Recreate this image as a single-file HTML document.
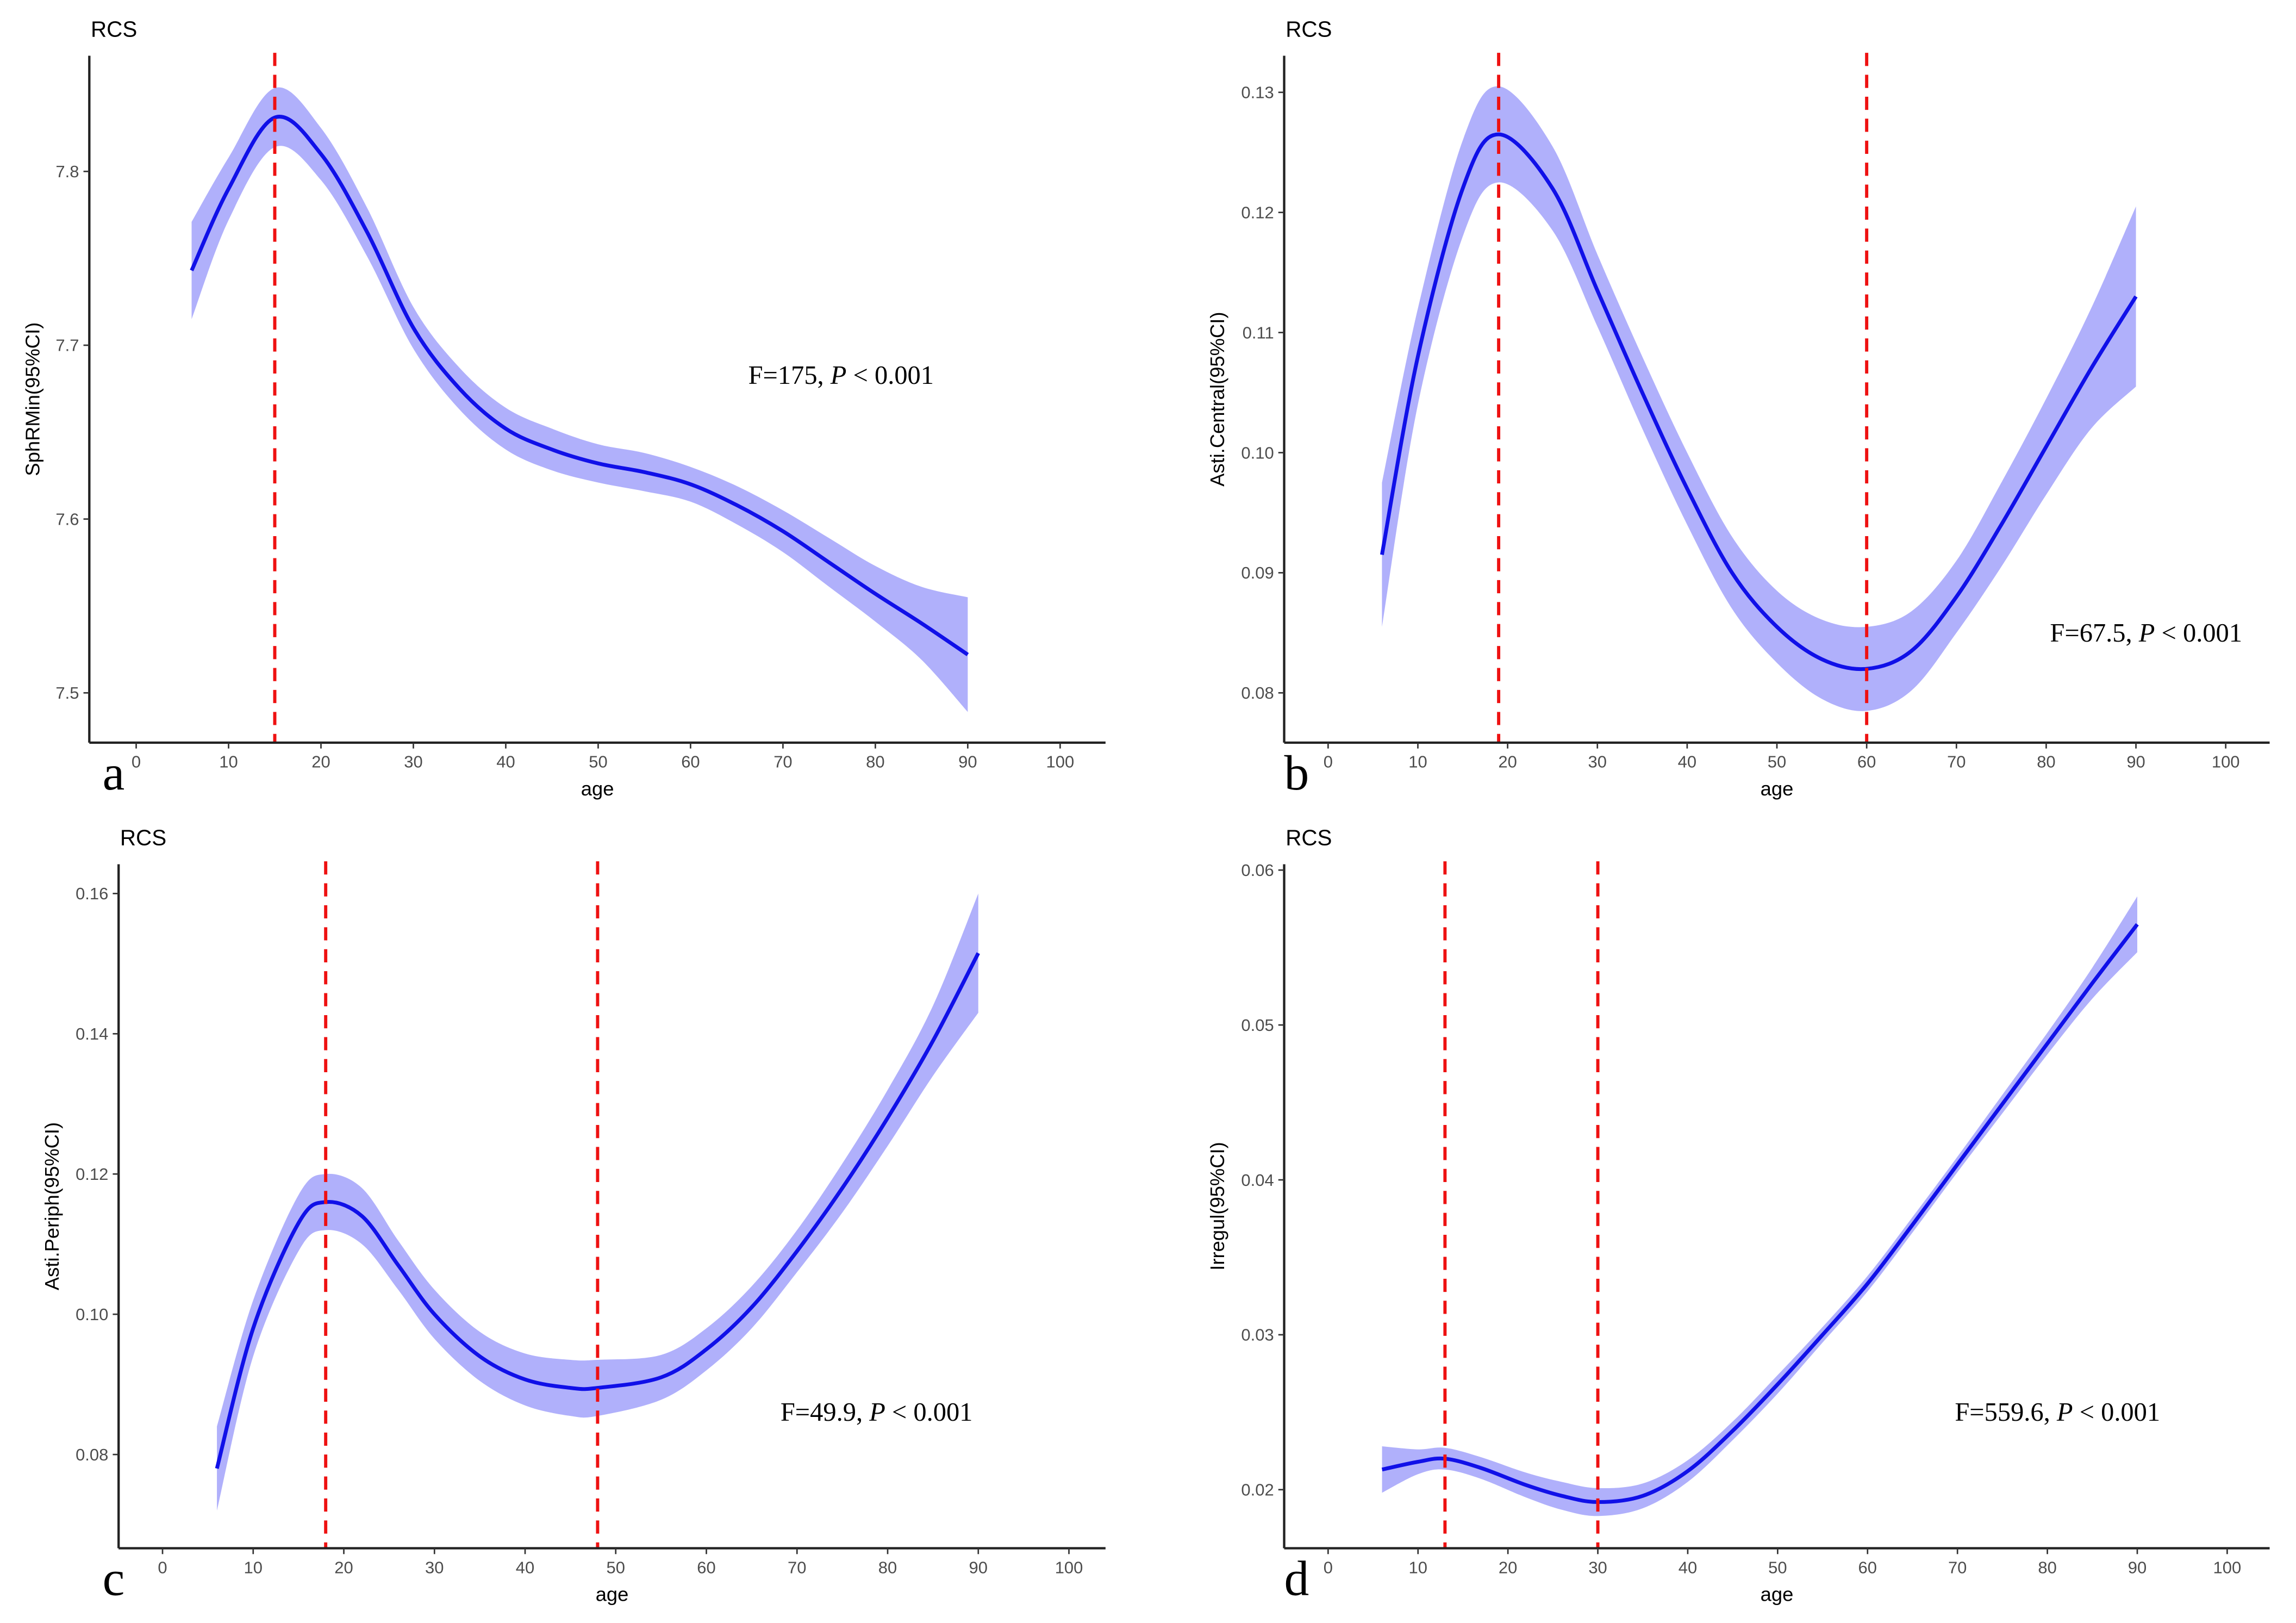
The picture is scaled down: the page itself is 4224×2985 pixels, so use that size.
<!DOCTYPE html>
<html><head><meta charset="utf-8"><style>
html,body{margin:0;padding:0;background:#fff;}
svg{display:block;}
.tick{font-family:"Liberation Sans",sans-serif;font-size:11.5px;fill:#4d4d4d;}
.ttl{font-family:"Liberation Sans",sans-serif;font-size:15px;fill:#000;}
.ax{font-family:"Liberation Sans",sans-serif;font-size:13.5px;fill:#000;}
.let{font-family:"Liberation Serif",serif;font-size:34px;fill:#000;}
.ann{font-family:"Liberation Serif",serif;font-size:18px;fill:#000;}
</style></head><body>
<svg id="fig" width="4224" height="2985" viewBox="0 0 1568 1108" xmlns="http://www.w3.org/2000/svg"></svg>
<script>
// ---- Panel a data ----
const agesA=[6,10,15,20,25,30,35,40,45,50,55,60,65,70,75,80,85,90];
const meanA=[7.743,7.79,7.831,7.81,7.765,7.71,7.675,7.652,7.64,7.632,7.627,7.62,7.608,7.593,7.575,7.557,7.54,7.522];
const lowA=[7.715,7.772,7.814,7.795,7.751,7.698,7.663,7.640,7.628,7.621,7.616,7.610,7.597,7.581,7.561,7.541,7.519,7.489];
const upA=[7.771,7.808,7.848,7.825,7.779,7.722,7.687,7.664,7.652,7.643,7.638,7.630,7.619,7.605,7.589,7.573,7.561,7.555];
const yTicksA=[7.5,7.6,7.7,7.8];
const cutsA=[15];
// ---- Panel b data ----
const agesB=[6,10,15,19,25,30,35,40,45,50,55,60,65,70,75,80,85,90];
const meanB=[0.0915,0.108,0.122,0.1265,0.122,0.1135,0.105,0.097,0.090,0.0855,0.0828,0.082,0.0835,0.088,0.094,0.1005,0.107,0.113];
const lowB=[0.0855,0.104,0.118,0.1225,0.1185,0.1105,0.102,0.094,0.087,0.0825,0.0795,0.0785,0.0802,0.085,0.0905,0.0965,0.102,0.1055];
const upB=[0.0975,0.112,0.126,0.1305,0.1255,0.1165,0.108,0.100,0.093,0.0885,0.0861,0.0855,0.0868,0.091,0.0975,0.1045,0.112,0.1205];
const yTicksB=[0.08,0.09,0.10,0.11,0.12,0.13];
const cutsB=[19,60];
// ---- Panel c data ----
const agesC=[6,10,15,18,22,26,30,35,40,45,48,55,60,65,70,75,80,85,90];
const meanC=[0.078,0.098,0.113,0.116,0.114,0.107,0.100,0.094,0.0907,0.0895,0.0895,0.091,0.095,0.101,0.109,0.118,0.128,0.139,0.1515];
const lowC=[0.072,0.094,0.109,0.112,0.110,0.1035,0.0965,0.0905,0.087,0.0855,0.0855,0.0878,0.092,0.098,0.106,0.1145,0.124,0.134,0.143];
const upC=[0.084,0.102,0.117,0.120,0.118,0.1105,0.1035,0.0975,0.0944,0.0935,0.0935,0.0942,0.098,0.104,0.112,0.1215,0.132,0.144,0.160];
const yTicksC=[0.08,0.10,0.12,0.14,0.16];
const cutsC=[18,48];
// ---- Panel d data ----
const agesD=[6,10,13,17,22,26,30,35,40,45,50,55,60,65,70,75,80,85,90];
const meanD=[0.0213,0.0218,0.0220,0.0214,0.0203,0.0196,0.0192,0.0196,0.0212,0.0238,0.0268,0.0300,0.0333,0.0371,0.0410,0.0449,0.0488,0.0527,0.0565];
const lowD=[0.0198,0.0210,0.0213,0.0207,0.0195,0.0187,0.0183,0.0188,0.0205,0.0232,0.0262,0.0295,0.0328,0.0366,0.0405,0.0443,0.0481,0.0517,0.0547];
const upD=[0.0228,0.0226,0.0227,0.0221,0.0211,0.0205,0.0201,0.0204,0.0219,0.0244,0.0274,0.0305,0.0338,0.0376,0.0415,0.0455,0.0495,0.0537,0.0583];
const yTicksD=[0.02,0.03,0.04,0.05,0.06];
const cutsD=[13,30];
const xTicks=[0,10,20,30,40,50,60,70,80,90,100];

const NS="http://www.w3.org/2000/svg";
const svg=document.getElementById('fig');
function mk(tag,attrs,parent){const e=document.createElementNS(NS,tag);for(const k in attrs)e.setAttribute(k,attrs[k]);(parent||svg).appendChild(e);return e;}
function smooth(pts){let d='M'+pts[0][0]+','+pts[0][1];for(let i=0;i<pts.length-1;i++){const p0=pts[i-1]||pts[i],p1=pts[i],p2=pts[i+1],p3=pts[i+2]||p2;
const c1x=p1[0]+(p2[0]-p0[0])/6,c1y=p1[1]+(p2[1]-p0[1])/6,c2x=p2[0]-(p3[0]-p1[0])/6,c2y=p2[1]-(p3[1]-p1[1])/6;
d+=' C'+c1x+','+c1y+' '+c2x+','+c2y+' '+p2[0]+','+p2[1];}return d;}
function smoothCont(pts){return smooth(pts).replace(/^M/,'L');}

function panel(cfg){
 const g=mk('g',{});
 
 
 const X=v=>cfg.x0+(v-0)*(cfg.x100-cfg.x0)/100;
 const Y=v=>cfg.yA+(v-cfg.vA)*(cfg.yB-cfg.yA)/(cfg.vB-cfg.vA);
 const up=cfg.ages.map((a,i)=>[X(a),Y(cfg.up[i])]);
 const lo=cfg.ages.map((a,i)=>[X(a),Y(cfg.low[i])]).reverse();
 const band=mk('path',{d:smooth(up)+' '+smoothCont(lo)+' Z',fill:'#b0b0fb',stroke:'none'},g);
 
 
 const line=mk('path',{d:smooth(cfg.ages.map((a,i)=>[X(a),Y(cfg.mean[i])])),fill:'none',stroke:'#1010e8','stroke-width':2.6},g);
 
 
 cfg.cuts.forEach(c=>{const l=mk('line',{x1:X(c),x2:X(c),y1:cfg.top-2,y2:cfg.bottom,stroke:'#ee1111','stroke-width':2.2,'stroke-dasharray':'9,6'},g);
  
  });
 const ya=mk('line',{x1:cfg.ax,x2:cfg.ax,y1:cfg.top,y2:cfg.bottom,stroke:'#222','stroke-width':1.6},g);
 
 
 const xa=mk('line',{x1:cfg.ax,x2:cfg.right,y1:cfg.bottom,y2:cfg.bottom,stroke:'#222','stroke-width':1.6},g);
 
 
 xTicks.forEach(t=>{mk('line',{x1:X(t),x2:X(t),y1:cfg.bottom,y2:cfg.bottom+4,stroke:'#333','stroke-width':1},g);
  const tx=mk('text',{x:X(t),y:cfg.bottom+17,'text-anchor':'middle',class:'tick'},g);tx.textContent=t;
  
  });
 cfg.yt.forEach(t=>{mk('line',{x1:cfg.ax-4,x2:cfg.ax,y1:Y(t),y2:Y(t),stroke:'#333','stroke-width':1},g);
  const tx=mk('text',{x:cfg.ax-7,y:Y(t)+4,'text-anchor':'end',class:'tick'},g);tx.textContent=cfg.fmt(t);
  
  });
 const tt=mk('text',{x:cfg.ax+1,y:cfg.top-13,class:'ttl'},g);tt.textContent='RCS';
 
 
 const xl=mk('text',{x:(cfg.ax+cfg.right)/2,y:cfg.bottom+36,'text-anchor':'middle',class:'ax'},g);xl.textContent='age';
 
 
 const yl=mk('text',{x:0,y:0,'text-anchor':'middle',class:'ax',transform:'translate('+cfg.ytx+','+((cfg.top+cfg.bottom)/2)+') rotate(-90)'},g);yl.textContent=cfg.ytitle;
 
 
 const lt=mk('text',{x:cfg.letX,y:cfg.bottom+32,class:'let'},g);lt.textContent=cfg.letter;
 
 
 const an=mk('text',{x:cfg.annX,y:cfg.annY,class:'ann'},g);
 
 
 const s1=mk('tspan',{},an);s1.textContent=cfg.F+', ';
 const s2=mk('tspan',{'font-style':'italic'},an);s2.textContent='P';
 const s3=mk('tspan',{},an);s3.textContent=' < 0.001';
}
panel({letter:'a',ages:agesA,mean:meanA,low:lowA,up:upA,yt:yTicksA,cuts:cutsA,fmt:v=>v.toFixed(1),
 x0:93,x100:724,yA:117,vA:7.8,yB:473,vB:7.5,ax:61,right:755,top:38,bottom:507,ytx:27,ytitle:'SphRMin(95%CI)',letX:70,annX:511,annY:262,F:'F=175'});
panel({letter:'b',ages:agesB,mean:meanB,low:lowB,up:upB,yt:yTicksB,cuts:cutsB,fmt:v=>v.toFixed(2),
 x0:907,x100:1520,yA:63,vA:0.13,yB:473,vB:0.08,ax:877,right:1550,top:38,bottom:507,ytx:836,ytitle:'Asti.Central(95%CI)',letX:877,annX:1400,annY:438,F:'F=67.5'});
panel({letter:'c',ages:agesC,mean:meanC,low:lowC,up:upC,yt:yTicksC,cuts:cutsC,fmt:v=>v.toFixed(2),
 x0:111,x100:730,yA:610,vA:0.16,yB:993,vB:0.08,ax:81,right:755,top:590,bottom:1057,ytx:40,ytitle:'Asti.Periph(95%CI)',letX:70,annX:533,annY:970,F:'F=49.9'});
panel({letter:'d',ages:agesD,mean:meanD,low:lowD,up:upD,yt:yTicksD,cuts:cutsD,fmt:v=>v.toFixed(2),
 x0:907,x100:1521,yA:594,vA:0.06,yB:1017,vB:0.02,ax:877,right:1550,top:590,bottom:1057,ytx:836,ytitle:'Irregul(95%CI)',letX:877,annX:1335,annY:970,F:'F=559.6'});
</script>
</body></html>
